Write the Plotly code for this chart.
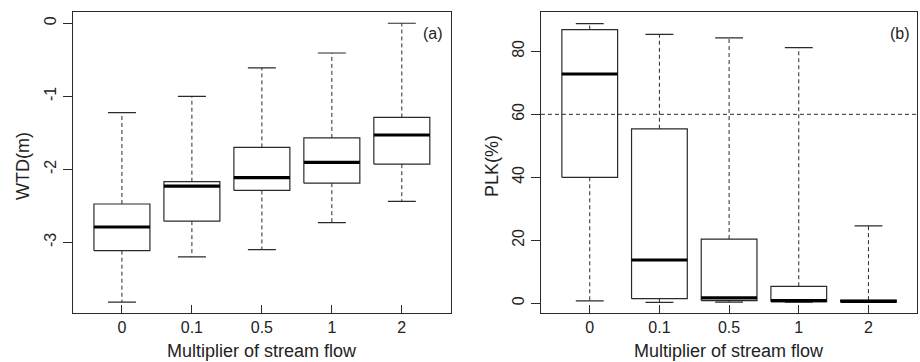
import plotly.graph_objects as go

categories = ["0", "0.1", "0.5", "1", "2"]

# Panel (a): WTD(m)
wtd_low = [-3.82, -3.20, -3.10, -2.73, -2.44]
wtd_q1 = [-3.115, -2.71, -2.29, -2.19, -1.93]
wtd_med = [-2.79, -2.23, -2.115, -1.905, -1.53]
wtd_q3 = [-2.475, -2.17, -1.70, -1.57, -1.29]
wtd_high = [-1.225, -1.00, -0.61, -0.407, 0.0]
wtd_ticks = [0, -1, -2, -3]
wtd_ticklabels = ["0", "-1", "-2", "-3"]

# Panel (b): PLK(%)
plk_low = [0.74, 0.3, 0.4, 0.4, 0.3]
plk_q1 = [40.0, 1.48, 0.85, 0.5, 0.4]
plk_med = [72.8, 13.75, 1.7, 0.85, 0.6]
plk_q3 = [86.9, 55.4, 20.4, 5.4, 1.0]
plk_high = [88.8, 85.4, 84.3, 81.2, 24.6]
plk_ticks = [0, 20, 40, 60, 80]
plk_ticklabels = ["0", "20", "40", "60", "80"]
plk_threshold = 60

BOX_HALF = 0.4
CAP_HALF = 0.2
FONT = "Liberation Sans, Arial, sans-serif"
LINE = "#2a2a2a"

fig = go.Figure()


def add_boxes(low, q1, med, q3, high, xa, ya):
    for i in range(len(categories)):
        # whiskers (dashed)
        fig.add_trace(go.Scatter(
            x=[i, i, None, i, i], y=[q3[i], high[i], None, q1[i], low[i]],
            mode="lines", line=dict(color=LINE, width=1, dash="4px,3px"),
            xaxis=xa, yaxis=ya, showlegend=False, hoverinfo="skip"))
        # caps
        fig.add_trace(go.Scatter(
            x=[i - CAP_HALF, i + CAP_HALF, None, i - CAP_HALF, i + CAP_HALF],
            y=[high[i], high[i], None, low[i], low[i]],
            mode="lines", line=dict(color=LINE, width=1.2),
            xaxis=xa, yaxis=ya, showlegend=False, hoverinfo="skip"))
        # box
        fig.add_trace(go.Scatter(
            x=[i - BOX_HALF, i + BOX_HALF, i + BOX_HALF, i - BOX_HALF, i - BOX_HALF],
            y=[q1[i], q1[i], q3[i], q3[i], q1[i]],
            mode="lines", line=dict(color=LINE, width=1.2),
            xaxis=xa, yaxis=ya, showlegend=False, hoverinfo="skip"))
        # median
        fig.add_trace(go.Scatter(
            x=[i - BOX_HALF, i + BOX_HALF], y=[med[i], med[i]],
            mode="lines", line=dict(color="black", width=3.2),
            xaxis=xa, yaxis=ya, showlegend=False, hoverinfo="skip"))


add_boxes(wtd_low, wtd_q1, wtd_med, wtd_q3, wtd_high, "x", "y")
add_boxes(plk_low, plk_q1, plk_med, plk_q3, plk_high, "x2", "y2")

fig.add_shape(type="line", xref="x2 domain", yref="y2", x0=0, x1=1,
              y0=plk_threshold, y1=plk_threshold,
              line=dict(color=LINE, width=1, dash="4px,3px"))

xcommon = dict(range=[-0.70, 4.70], tickmode="array",
               tickvals=list(range(len(categories))), ticktext=categories,
               ticks="inside", ticklen=8, tickcolor=LINE, tickwidth=1,
               showline=True, linecolor=LINE, linewidth=1.2, mirror=True,
               showgrid=False, zeroline=False,
               tickfont=dict(family=FONT, size=16, color="#222"))
ycommon = dict(ticks="outside", ticklen=9, tickcolor=LINE, tickwidth=1,
               showline=True, linecolor=LINE, linewidth=1.2, mirror=True,
               showgrid=False, zeroline=False, tickangle=-90, tickmode="array",
               tickfont=dict(family=FONT, size=16, color="#222"))

fig.update_layout(
    width=920, height=362,
    margin=dict(l=0, r=0, t=0, b=0),
    paper_bgcolor="white", plot_bgcolor="white",
    xaxis=dict(domain=[0.0793, 0.490], anchor="y", **xcommon),
    xaxis2=dict(domain=[0.588, 0.997], anchor="y2", **xcommon),
    yaxis=dict(domain=[0.1354, 0.967], anchor="x", range=[-3.968, 0.155],
               tickvals=wtd_ticks, ticktext=wtd_ticklabels, **ycommon),
    yaxis2=dict(domain=[0.1354, 0.967], anchor="x2", range=[-3.08, 92.5],
                tickvals=plk_ticks, ticktext=plk_ticklabels, **ycommon),
)

title_font = dict(family=FONT, size=18, color="#222")
for cx in (262, 729):
    fig.add_annotation(text="Multiplier of stream flow", xref="paper", yref="paper",
                       x=cx / 920, y=0, showarrow=False,
                       xanchor="center", yanchor="bottom", yshift=-1,
                       font=title_font)
fig.add_annotation(text="WTD(m)", xref="paper", yref="paper", x=23 / 920,
                   y=1 - 166 / 362, textangle=-90, showarrow=False,
                   xanchor="center", yanchor="middle", font=title_font)
fig.add_annotation(text="PLK(%)", xref="paper", yref="paper", x=492 / 920,
                   y=1 - 166 / 362, textangle=-90, showarrow=False,
                   xanchor="center", yanchor="middle", font=title_font)
fig.add_annotation(text="(a)", xref="paper", yref="paper", x=433 / 920,
                   y=1 - 34 / 362, showarrow=False, xanchor="center",
                   yanchor="middle", font=dict(family=FONT, size=16, color="#222"))
fig.add_annotation(text="(b)", xref="paper", yref="paper", x=900 / 920,
                   y=1 - 34 / 362, showarrow=False, xanchor="center",
                   yanchor="middle", font=dict(family=FONT, size=16, color="#222"))

fig.write_html("out.html")
